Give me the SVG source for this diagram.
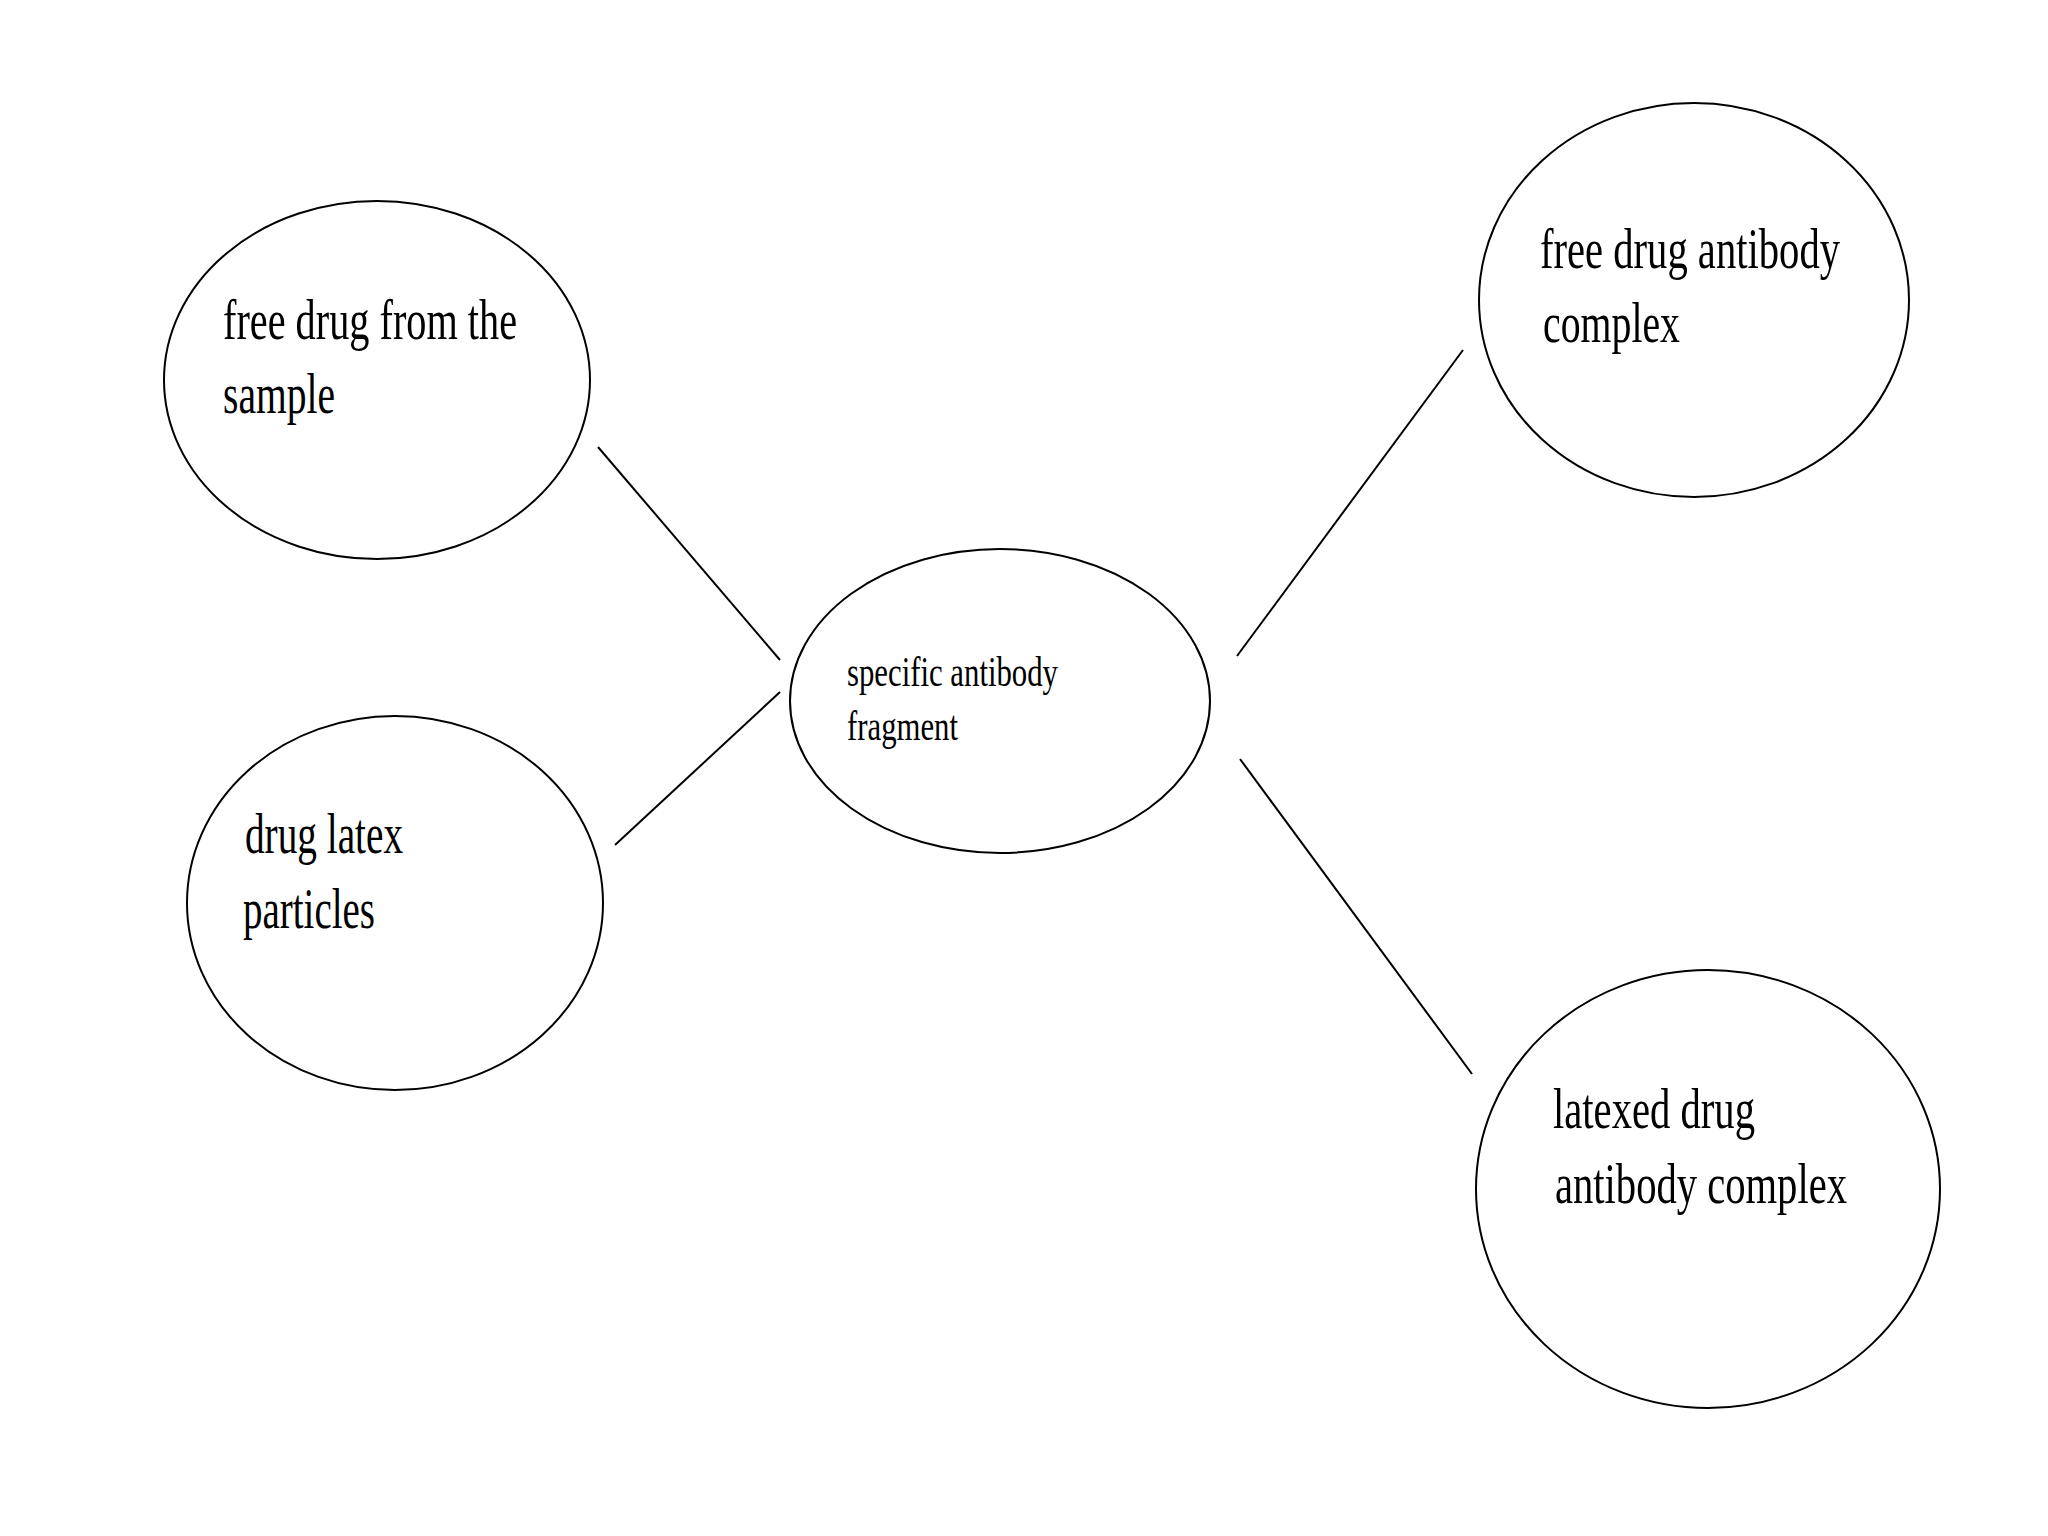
<svg xmlns="http://www.w3.org/2000/svg" width="2048" height="1536" viewBox="0 0 2048 1536">
<style>
.n{fill:none;stroke:#000;stroke-width:2}
.c line{stroke:#000;stroke-width:2}
.t{font-family:"Liberation Serif","Times New Roman",serif;font-size:58px;fill:#000}
.s{font-family:"Liberation Serif","Times New Roman",serif;font-size:42px;fill:#000}
</style>
<rect width="2048" height="1536" fill="#fff"/>
<g class="c" id="connectors">
<line x1="598" y1="447" x2="780" y2="660"/>
<line x1="615" y1="845" x2="780" y2="692"/>
<line x1="1237" y1="656" x2="1463" y2="350"/>
<line x1="1240" y1="759" x2="1472" y2="1074"/>
</g>
<g id="n1">
<ellipse class="n" cx="377" cy="380" rx="213" ry="179"/>
<text class="t" x="223" y="339" textLength="294" lengthAdjust="spacingAndGlyphs">free drug from the</text>
<text class="t" x="223" y="413" textLength="112" lengthAdjust="spacingAndGlyphs">sample</text>
</g>
<g id="n2">
<ellipse class="n" cx="395" cy="903" rx="208" ry="187"/>
<text class="t" x="245" y="853" textLength="158" lengthAdjust="spacingAndGlyphs">drug latex</text>
<text class="t" x="243" y="928" textLength="132" lengthAdjust="spacingAndGlyphs">particles</text>
</g>
<g id="n3">
<ellipse class="n" cx="1000" cy="701" rx="210" ry="152"/>
<text class="s" x="847" y="686" textLength="211" lengthAdjust="spacingAndGlyphs">specific antibody</text>
<text class="s" x="847" y="740" textLength="111" lengthAdjust="spacingAndGlyphs">fragment</text>
</g>
<g id="n4">
<ellipse class="n" cx="1694" cy="300" rx="215" ry="197"/>
<text class="t" x="1540" y="268" textLength="300" lengthAdjust="spacingAndGlyphs">free drug antibody</text>
<text class="t" x="1543" y="342" textLength="137" lengthAdjust="spacingAndGlyphs">complex</text>
</g>
<g id="n5">
<ellipse class="n" cx="1708" cy="1189" rx="232" ry="219"/>
<text class="t" x="1553" y="1128" textLength="202" lengthAdjust="spacingAndGlyphs">latexed drug</text>
<text class="t" x="1555" y="1203" textLength="292" lengthAdjust="spacingAndGlyphs">antibody complex</text>
</g>
</svg>
